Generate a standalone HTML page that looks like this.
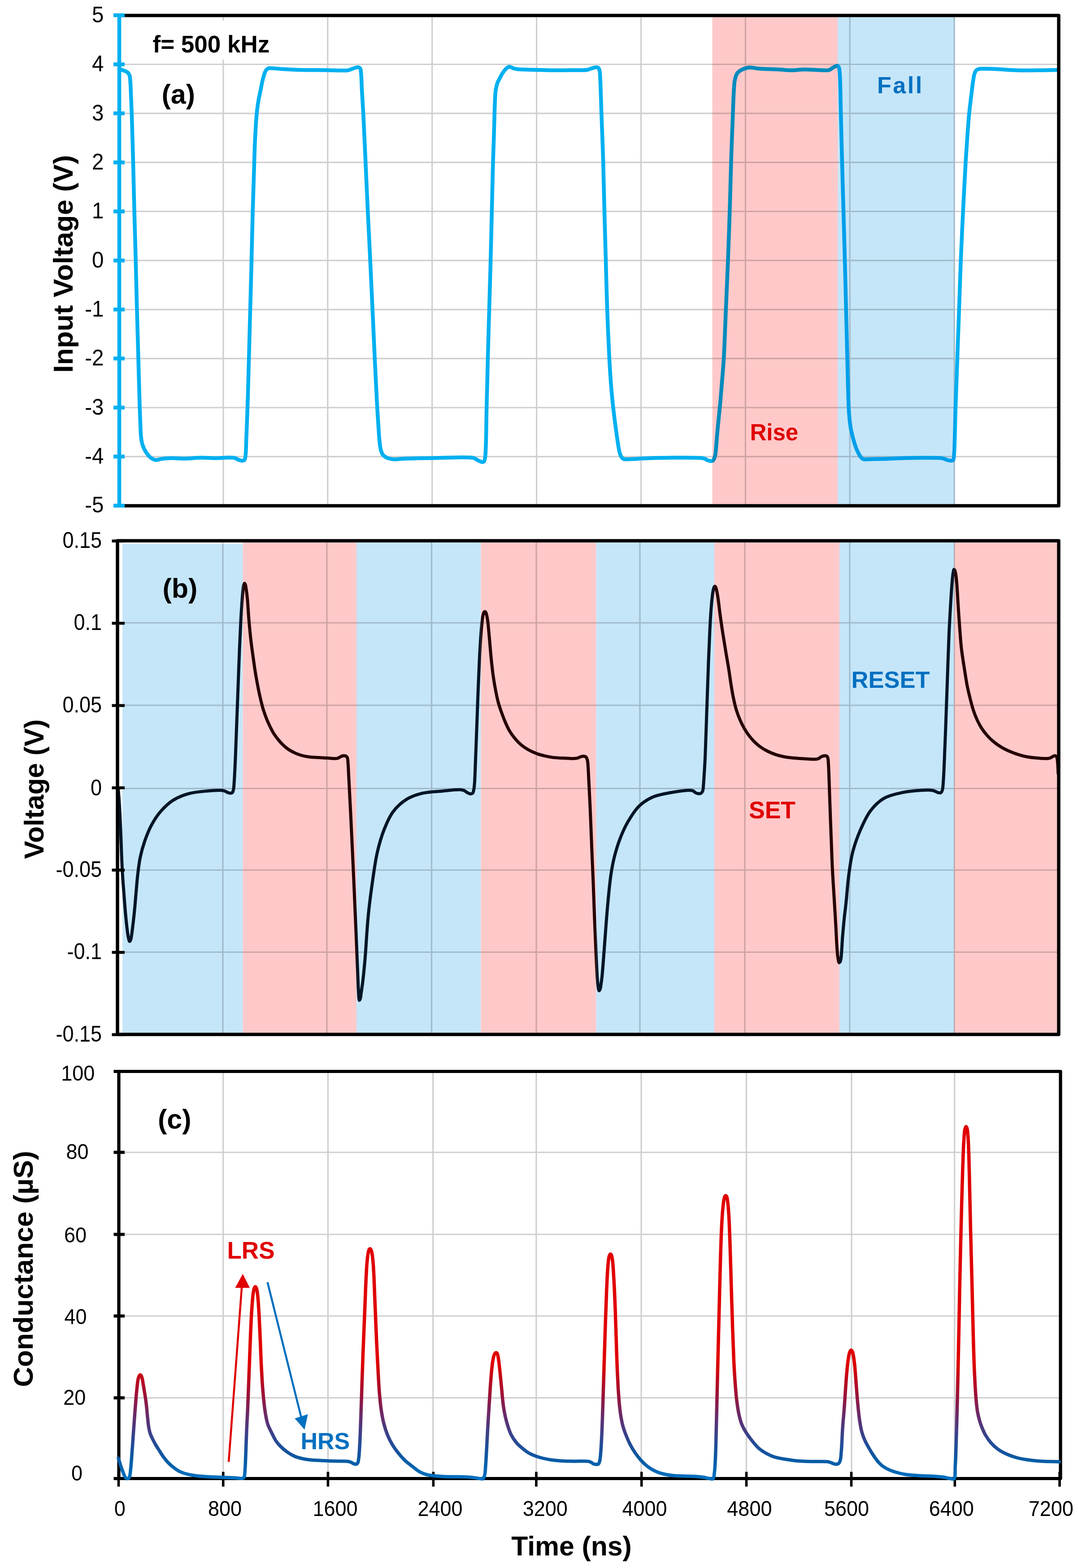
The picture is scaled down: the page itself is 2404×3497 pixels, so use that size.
<!DOCTYPE html><html><head><meta charset="utf-8"><title>Figure</title><style>html,body{margin:0;padding:0;background:#fff;}svg{display:block;}text{font-family:"Liberation Sans",Arial,sans-serif;}</style></head><body><svg xmlns="http://www.w3.org/2000/svg" width="2404" height="3497" viewBox="0 0 2404 3497" font-family="Liberation Sans, Arial, sans-serif"><defs><linearGradient id="cg" gradientUnits="userSpaceOnUse" x1="0" y1="3040" x2="0" y2="3297"><stop offset="0" stop-color="#e00000"/><stop offset="0.296" stop-color="#96143c"/><stop offset="0.436" stop-color="#6e2864"/><stop offset="0.576" stop-color="#463c82"/><stop offset="0.70" stop-color="#234b96"/><stop offset="0.852" stop-color="#055ca5"/><stop offset="1" stop-color="#0070c0"/></linearGradient><clipPath id="cpb"><rect x="250.0" y="1200" width="291.6" height="1110"/><rect x="795.0" y="1200" width="277.5" height="1110"/><rect x="1329.7" y="1200" width="263.3" height="1110"/><rect x="1872.0" y="1200" width="256.2" height="1110"/></clipPath><clipPath id="cpp"><rect x="541.6" y="1200" width="253.4" height="1110"/><rect x="1072.5" y="1200" width="257.2" height="1110"/><rect x="1593.0" y="1200" width="279.0" height="1110"/><rect x="2128.2" y="1200" width="271.8" height="1110"/></clipPath></defs><rect width="2404" height="3497" fill="#fff"/><path d="M266.0,1018.3H2361.0M266.0,909.0H2361.0M266.0,799.6H2361.0M266.0,690.3H2361.0M266.0,580.9H2361.0M266.0,471.5H2361.0M266.0,362.2H2361.0M266.0,252.8H2361.0M266.0,143.5H2361.0M497.9,34.5V1128.0M730.8,34.5V1128.0M963.7,34.5V1128.0M1196.6,34.5V1128.0M1429.5,34.5V1128.0M1662.4,34.5V1128.0M1895.2,34.5V1128.0M2128.2,34.5V1128.0" stroke="#cfcfcf" stroke-width="3.2" fill="none"/><rect x="330" y="46" width="280" height="87" fill="#fff"/><path d="M266.0,153.0 C268.0,154.0 269.7,155.0 272.0,156.0 C274.8,157.2 278.9,158.1 281.4,159.5 C283.3,160.5 284.7,161.5 286.0,163.0 C287.4,164.6 288.3,166.4 289.1,169.0 C290.3,173.0 290.3,179.1 290.8,185.0 C291.4,192.4 291.6,200.5 292.0,210.0 C292.6,222.6 293.2,236.1 293.8,254.0 C294.8,281.9 295.9,325.1 296.9,361.0 C297.9,397.4 298.6,434.3 299.6,471.0 C300.6,507.9 301.7,545.3 302.7,582.0 C303.7,618.2 304.4,653.9 305.4,690.0 C306.4,726.3 307.5,762.6 308.5,799.0 C309.5,835.6 310.7,882.3 311.6,909.0 C312.1,924.3 312.5,933.9 313.0,945.0 C313.4,954.6 313.6,964.6 314.3,972.0 C314.8,977.1 315.2,981.1 316.0,985.0 C316.7,988.3 317.4,991.0 318.5,994.0 C319.6,997.0 321.0,1000.2 322.5,1003.0 C323.9,1005.7 325.3,1008.1 327.0,1010.5 C328.8,1013.1 330.8,1015.8 333.0,1018.0 C335.2,1020.1 337.7,1022.2 340.2,1023.5 C342.6,1024.8 344.9,1025.8 347.7,1026.0 C351.1,1026.2 354.5,1024.2 359.0,1023.6 C365.6,1022.7 375.0,1022.0 383.4,1021.8 C392.5,1021.6 401.5,1022.8 411.6,1022.7 C423.2,1022.6 437.6,1020.9 449.2,1020.8 C459.3,1020.7 466.9,1021.7 477.4,1021.8 C490.7,1021.9 513.2,1019.2 522.5,1021.2 C526.9,1022.1 528.8,1024.5 531.9,1025.5 C534.7,1026.5 537.9,1027.6 540.3,1027.4 C542.2,1027.3 544.1,1026.9 545.3,1025.5 C547.0,1023.5 547.0,1019.7 547.6,1015.0 C548.8,1006.0 548.8,988.3 549.4,975.0 C550.0,961.7 550.5,948.7 551.0,935.0 C551.5,920.4 552.0,907.6 552.6,890.0 C553.4,865.1 554.2,831.4 555.1,800.0 C556.0,765.4 557.0,727.2 558.0,691.0 C559.0,654.9 560.0,619.2 560.9,583.0 C561.8,546.3 562.7,505.6 563.6,472.0 C564.4,444.0 565.2,419.6 566.0,395.0 C566.7,372.4 567.2,350.2 568.0,330.0 C568.7,312.2 569.5,295.1 570.5,280.0 C571.3,267.6 572.1,256.4 573.3,246.0 C574.3,237.0 575.6,228.7 577.0,221.0 C578.2,214.4 579.6,208.8 580.8,202.7 C582.1,196.5 583.2,189.9 584.5,184.0 C585.7,178.7 587.1,173.1 588.3,168.9 C589.2,165.8 590.0,163.3 591.0,161.0 C591.9,159.0 592.8,157.1 594.0,155.7 C595.0,154.5 596.2,153.6 597.5,153.0 C598.7,152.4 599.6,152.2 601.5,152.0 C606.2,151.6 617.0,153.2 626.0,153.8 C637.2,154.5 649.2,155.3 663.5,155.7 C682.8,156.3 710.9,156.3 731.2,156.5 C747.8,156.7 767.6,158.3 776.3,156.8 C780.0,156.2 781.5,154.9 784.0,154.0 C786.5,153.1 789.1,152.2 791.3,151.5 C793.0,151.0 794.4,150.4 796.0,150.2 C797.6,150.0 799.5,149.9 800.8,150.5 C801.9,151.0 802.8,151.7 803.5,153.0 C804.8,155.4 804.8,159.9 805.3,165.0 C806.2,173.6 806.3,187.1 807.0,200.0 C807.9,216.1 809.1,232.9 810.2,254.0 C811.8,283.6 813.5,325.1 815.2,361.0 C816.9,397.4 818.5,434.3 820.2,471.0 C822.0,507.9 823.9,545.3 825.7,582.0 C827.4,618.2 829.0,653.9 830.7,690.0 C832.4,726.2 834.0,762.6 835.7,799.0 C837.5,835.6 839.5,879.3 841.2,909.0 C842.4,929.2 843.5,946.0 844.5,960.0 C845.2,969.8 845.7,977.7 846.5,985.0 C847.1,990.6 847.6,995.7 848.5,1000.0 C849.2,1003.4 850.0,1006.4 851.0,1009.0 C851.9,1011.1 852.6,1012.8 854.0,1014.5 C855.5,1016.4 857.8,1018.2 860.0,1019.5 C862.3,1020.9 864.7,1021.7 867.5,1022.5 C871.0,1023.5 875.0,1024.3 879.6,1024.5 C885.6,1024.8 891.4,1023.3 900.3,1022.9 C916.4,1022.1 943.9,1021.7 968.0,1021.4 C995.5,1021.1 1043.7,1018.2 1056.3,1021.4 C1060.0,1022.3 1060.8,1023.8 1063.0,1025.0 C1065.2,1026.2 1067.3,1027.6 1069.5,1028.5 C1071.5,1029.4 1073.7,1030.5 1075.5,1030.5 C1077.0,1030.5 1078.5,1030.2 1079.5,1029.0 C1081.2,1027.1 1081.4,1023.6 1082.1,1018.0 C1084.4,1000.5 1084.2,945.4 1085.2,909.0 C1086.2,872.4 1086.9,835.6 1087.9,799.0 C1088.9,762.6 1090.0,726.2 1091.0,690.0 C1092.0,653.9 1093.1,618.2 1094.1,582.0 C1095.1,545.3 1095.9,507.9 1096.8,471.0 C1097.7,434.3 1098.6,392.3 1099.5,361.0 C1100.2,337.7 1100.9,318.9 1101.5,300.0 C1102.0,283.6 1102.4,267.6 1102.8,254.0 C1103.1,243.2 1103.4,233.8 1103.8,225.0 C1104.1,217.7 1104.3,211.1 1105.0,205.0 C1105.6,199.9 1106.5,195.1 1107.5,191.0 C1108.4,187.6 1109.3,184.8 1110.5,182.0 C1111.6,179.5 1113.0,177.5 1114.3,175.0 C1115.8,172.2 1117.3,168.8 1119.0,166.0 C1120.6,163.3 1122.2,160.8 1124.0,158.5 C1125.7,156.3 1127.6,154.1 1129.5,152.5 C1131.2,151.0 1133.1,149.3 1135.0,149.0 C1136.6,148.7 1138.4,149.4 1140.0,150.0 C1141.7,150.6 1143.0,151.8 1145.0,152.5 C1147.9,153.5 1151.1,154.1 1155.9,154.6 C1164.6,155.6 1181.0,155.3 1193.5,155.7 C1206.0,156.1 1218.6,156.7 1231.1,156.8 C1243.6,156.9 1255.9,156.7 1268.7,156.5 C1282.2,156.3 1302.6,157.1 1310.1,155.7 C1313.0,155.1 1314.1,154.1 1316.0,153.5 C1317.8,152.9 1319.7,152.5 1321.4,152.0 C1323.0,151.5 1324.4,150.8 1326.0,150.5 C1327.6,150.2 1329.3,149.8 1330.8,150.0 C1332.1,150.2 1333.5,150.6 1334.5,151.5 C1335.7,152.7 1336.4,154.6 1337.0,157.0 C1338.1,161.2 1338.0,166.9 1338.5,175.0 C1339.5,192.0 1340.3,225.7 1341.3,254.0 C1342.5,287.0 1344.1,325.1 1345.2,361.0 C1346.3,397.4 1346.9,434.3 1347.9,471.0 C1348.9,507.9 1350.0,545.3 1351.0,582.0 C1352.0,618.2 1352.8,653.9 1354.1,690.0 C1355.4,726.3 1357.2,769.5 1358.8,799.0 C1359.9,819.2 1360.9,834.6 1362.0,850.0 C1362.9,862.8 1364.0,874.4 1365.0,885.0 C1365.8,893.8 1366.5,900.4 1367.5,909.0 C1368.6,919.1 1370.1,931.0 1371.5,942.0 C1372.9,953.0 1374.6,965.0 1376.0,975.0 C1377.2,983.4 1378.2,991.3 1379.5,998.0 C1380.5,1003.3 1381.3,1008.1 1382.6,1012.0 C1383.6,1014.9 1384.6,1017.5 1386.0,1019.5 C1387.2,1021.2 1388.1,1022.6 1390.2,1023.5 C1393.5,1024.9 1399.1,1024.1 1405.2,1024.0 C1414.9,1023.9 1429.7,1022.6 1442.8,1022.1 C1457.1,1021.6 1470.8,1021.1 1487.9,1021.0 C1510.5,1020.8 1555.7,1019.9 1566.8,1021.7 C1569.9,1022.2 1570.6,1022.7 1572.5,1023.5 C1574.4,1024.3 1576.2,1025.8 1578.1,1026.6 C1579.9,1027.3 1581.6,1027.8 1583.5,1028.0 C1585.4,1028.2 1587.9,1028.6 1589.4,1027.7 C1590.9,1026.9 1591.6,1024.8 1592.5,1023.0 C1593.6,1020.7 1594.2,1018.8 1595.0,1015.0 C1596.7,1006.7 1597.6,987.0 1598.8,974.0 C1599.9,962.1 1600.9,951.1 1602.0,940.0 C1603.0,929.4 1604.1,920.2 1605.2,909.0 C1606.5,895.6 1607.7,881.2 1609.0,865.0 C1610.6,845.2 1612.6,823.8 1614.1,799.0 C1616.0,767.2 1617.2,726.2 1618.8,690.0 C1620.3,653.9 1622.0,618.2 1623.4,582.0 C1624.8,545.3 1626.1,507.9 1627.3,471.0 C1628.5,434.3 1629.2,397.4 1630.4,361.0 C1631.6,325.1 1633.2,281.5 1634.3,254.0 C1635.0,236.8 1635.3,224.8 1636.0,212.0 C1636.6,201.2 1636.9,189.7 1638.1,182.0 C1638.9,177.1 1639.8,173.3 1641.0,170.0 C1641.9,167.5 1642.6,165.5 1644.0,163.5 C1645.5,161.4 1647.8,159.6 1650.0,158.0 C1652.3,156.4 1655.0,155.1 1657.5,154.0 C1660.0,152.9 1662.4,152.1 1665.0,151.5 C1667.6,150.9 1669.8,150.5 1673.0,150.5 C1678.0,150.5 1684.3,152.4 1692.0,153.1 C1703.8,154.2 1724.1,154.3 1737.1,155.0 C1747.1,155.6 1754.4,156.8 1763.5,156.8 C1773.2,156.8 1782.9,155.1 1793.5,155.0 C1805.3,154.9 1821.0,156.3 1831.1,156.5 C1837.8,156.6 1844.1,157.4 1848.0,156.5 C1850.2,156.0 1851.4,154.9 1853.0,154.0 C1854.5,153.1 1855.9,151.9 1857.4,151.0 C1858.9,150.1 1860.4,149.3 1862.0,148.5 C1863.6,147.8 1865.4,146.4 1866.8,146.5 C1867.8,146.6 1868.8,147.2 1869.5,148.0 C1870.5,149.1 1871.0,150.8 1871.5,153.0 C1872.4,156.6 1872.6,160.9 1873.0,168.0 C1874.1,184.9 1874.4,223.8 1875.2,254.0 C1876.1,287.7 1876.9,325.1 1877.9,361.0 C1878.9,397.4 1880.0,434.3 1881.0,471.0 C1882.0,507.9 1883.1,545.3 1884.1,582.0 C1885.1,618.2 1885.9,653.9 1886.8,690.0 C1887.7,726.2 1888.5,762.6 1889.5,799.0 C1890.5,835.6 1891.4,885.0 1892.6,909.0 C1893.2,920.7 1893.7,926.9 1894.5,935.0 C1895.2,942.1 1896.1,948.6 1897.2,955.0 C1898.3,960.9 1899.6,966.5 1901.0,972.0 C1902.3,977.2 1903.6,982.2 1905.1,987.0 C1906.5,991.5 1907.9,995.9 1909.5,1000.0 C1911.0,1003.9 1912.8,1007.7 1914.5,1011.0 C1916.0,1013.8 1917.3,1016.3 1919.0,1018.5 C1920.5,1020.4 1922.0,1022.5 1923.9,1023.5 C1925.7,1024.4 1927.6,1024.3 1930.0,1024.5 C1933.5,1024.7 1937.5,1024.2 1942.7,1024.1 C1950.8,1023.9 1962.5,1023.8 1974.0,1023.5 C1988.1,1023.1 2006.6,1022.0 2021.0,1021.6 C2033.4,1021.2 2043.2,1021.0 2055.4,1021.0 C2069.1,1021.0 2091.1,1020.4 2099.3,1021.6 C2102.6,1022.1 2103.9,1022.8 2106.0,1023.5 C2108.0,1024.2 2109.9,1025.1 2111.8,1025.7 C2113.7,1026.3 2115.6,1026.8 2117.5,1027.0 C2119.3,1027.2 2121.3,1027.5 2122.8,1027.2 C2124.0,1027.0 2125.0,1026.8 2125.8,1025.8 C2127.4,1023.6 2127.2,1018.8 2127.8,1012.0 C2129.4,993.6 2129.8,943.9 2131.0,909.0 C2132.2,872.9 2133.6,835.6 2134.9,799.0 C2136.2,762.6 2137.5,726.2 2138.8,690.0 C2140.1,653.9 2141.1,618.2 2142.6,582.0 C2144.1,545.2 2145.9,507.9 2147.7,471.0 C2149.5,434.2 2151.6,392.3 2153.5,361.0 C2154.9,337.7 2156.1,318.9 2157.5,300.0 C2158.7,283.6 2159.9,267.6 2161.2,254.0 C2162.2,243.2 2163.4,234.5 2164.5,225.0 C2165.6,215.8 2166.7,206.3 2167.8,198.0 C2168.7,190.8 2169.4,184.2 2170.5,178.0 C2171.4,172.6 2172.0,166.9 2173.6,163.0 C2174.8,160.1 2176.2,157.5 2178.0,156.0 C2179.5,154.8 2181.2,154.5 2183.0,154.0 C2185.1,153.5 2187.0,153.3 2190.1,153.2 C2196.0,152.9 2205.8,153.4 2215.9,153.8 C2230.2,154.4 2251.1,156.3 2267.6,156.8 C2282.6,157.2 2296.0,156.9 2310.7,156.8 C2326.1,156.7 2342.2,156.3 2358.0,156.0" stroke="#00b0f0" stroke-width="8.5" fill="none" stroke-linejoin="round" stroke-linecap="round"/><rect x="1588.5" y="38" width="279.5" height="1086" fill="#ffc9c9" style="mix-blend-mode:multiply"/><rect x="1868" y="38" width="261.5" height="1086" fill="#c5e6f9" style="mix-blend-mode:multiply"/><path d="M266.0,34.5H2361.0V1128.0H266.0" stroke="#000" stroke-width="7.5" fill="none" stroke-linejoin="round"/><path d="M266.0,30V1132M253,1127.7H278M253,1018.3H278M253,909.0H278M253,799.6H278M253,690.3H278M253,580.9H278M253,471.5H278M253,362.2H278M253,252.8H278M253,143.5H278M253,34.1H278" stroke="#00b0f0" stroke-width="8.5" fill="none"/><text transform="translate(231.5,1126.2) scale(1,1.040)" x="0" y="16.62" font-size="47.5" text-anchor="end">-5</text><text transform="translate(231.5,1016.8) scale(1,1.040)" x="0" y="16.62" font-size="47.5" text-anchor="end">-4</text><text transform="translate(231.5,907.5) scale(1,1.040)" x="0" y="16.62" font-size="47.5" text-anchor="end">-3</text><text transform="translate(231.5,798.1) scale(1,1.040)" x="0" y="16.62" font-size="47.5" text-anchor="end">-2</text><text transform="translate(231.5,688.8) scale(1,1.040)" x="0" y="16.62" font-size="47.5" text-anchor="end">-1</text><text transform="translate(231.5,579.4) scale(1,1.040)" x="0" y="16.62" font-size="47.5" text-anchor="end">0</text><text transform="translate(231.5,470.0) scale(1,1.040)" x="0" y="16.62" font-size="47.5" text-anchor="end">1</text><text transform="translate(231.5,360.7) scale(1,1.040)" x="0" y="16.62" font-size="47.5" text-anchor="end">2</text><text transform="translate(231.5,251.3) scale(1,1.040)" x="0" y="16.62" font-size="47.5" text-anchor="end">3</text><text transform="translate(231.5,142.0) scale(1,1.040)" x="0" y="16.62" font-size="47.5" text-anchor="end">4</text><text transform="translate(231.5,32.6) scale(1,1.040)" x="0" y="16.62" font-size="47.5" text-anchor="end">5</text><text x="340.5" y="117.0" font-size="53.0" text-anchor="start" font-weight="bold" fill="#000">f= 500 kHz</text><text x="360.5" y="231.0" font-size="61.0" text-anchor="start" font-weight="bold" fill="#000">(a)</text><text x="1672.5" y="982.0" font-size="51.0" text-anchor="start" font-weight="bold" fill="#e00000">Rise</text><text x="1956.0" y="207.5" font-size="52.0" text-anchor="start" font-weight="bold" fill="#0070c0" letter-spacing="3.5">Fall</text><text x="161.5" y="588.5" font-size="61.7" text-anchor="middle" font-weight="bold" fill="#000" transform="rotate(-90 161.5 588.5)">Input Voltage (V)</text><rect x="273.0" y="1213.5" width="268.6" height="1090.0" fill="#c5e6f9"/><rect x="541.6" y="1210.0" width="253.4" height="1093.5" fill="#ffc9c9"/><rect x="795.0" y="1210.0" width="277.5" height="1093.5" fill="#c5e6f9"/><rect x="1072.5" y="1210.0" width="257.2" height="1093.5" fill="#ffc9c9"/><rect x="1329.7" y="1210.0" width="263.3" height="1093.5" fill="#c5e6f9"/><rect x="1593.0" y="1210.0" width="279.0" height="1093.5" fill="#ffc9c9"/><rect x="1872.0" y="1210.0" width="256.2" height="1093.5" fill="#c5e6f9"/><rect x="2128.2" y="1210.0" width="229.8" height="1093.5" fill="#ffc9c9"/><path d="M262.0,1389.0H2361.0M262.0,1573.0H2361.0M262.0,1758.5H2361.0M262.0,1940.5H2361.0M262.0,2123.5H2361.0M497.0,1206.0V2307.0M729.0,1206.0V2307.0M962.5,1206.0V2307.0M1196.0,1206.0V2307.0M1427.0,1206.0V2307.0M1661.0,1206.0V2307.0M1895.0,1206.0V2307.0M2128.2,1206.0V2307.0" stroke="#cfcfcf" stroke-width="3.2" fill="none" style="mix-blend-mode:multiply"/><path d="M263.5,1757.0 C264.3,1768.0 265.2,1777.4 266.0,1790.0 C267.1,1807.0 268.0,1828.0 269.0,1850.0 C270.2,1877.0 271.1,1913.7 272.6,1940.0 C273.7,1960.6 275.2,1977.6 276.5,1995.0 C277.7,2010.8 278.8,2026.3 280.1,2040.0 C281.2,2051.6 282.3,2062.7 283.5,2072.0 C284.4,2079.2 285.1,2086.0 286.3,2091.0 C287.1,2094.4 288.1,2099.4 289.1,2099.5 C289.9,2099.6 291.0,2097.0 291.7,2095.0 C292.8,2091.9 293.2,2087.0 294.0,2082.0 C295.0,2075.2 296.0,2066.3 297.0,2058.0 C298.0,2049.0 299.0,2040.2 300.0,2030.0 C301.2,2017.9 302.3,2003.2 303.5,1990.0 C304.7,1977.2 305.5,1964.8 307.0,1952.0 C308.5,1938.8 310.0,1924.9 312.7,1912.0 C315.3,1899.6 318.6,1887.8 322.7,1876.0 C326.9,1864.0 331.7,1851.5 337.7,1840.4 C343.5,1829.7 349.9,1819.4 357.8,1810.3 C365.8,1801.0 374.9,1791.9 385.3,1785.2 C395.8,1778.5 408.1,1773.7 420.4,1770.2 C433.1,1766.6 447.5,1765.4 460.5,1764.2 C472.6,1763.0 488.6,1761.9 495.6,1762.7 C498.6,1763.1 499.9,1763.7 502.0,1764.5 C504.1,1765.3 506.0,1766.9 508.1,1767.7 C510.0,1768.4 512.2,1769.1 514.0,1769.0 C515.5,1768.9 517.1,1768.7 518.2,1767.7 C519.5,1766.4 520.0,1763.9 520.6,1761.0 C521.7,1756.0 521.9,1748.5 522.5,1740.0 C523.4,1726.9 524.2,1708.6 525.0,1690.0 C526.0,1666.5 527.0,1636.7 528.0,1610.0 C529.0,1583.3 530.0,1556.7 531.0,1530.0 C532.0,1503.3 532.9,1475.3 534.0,1450.0 C535.0,1427.2 536.0,1404.0 537.0,1385.0 C537.8,1370.1 538.6,1357.0 539.5,1345.0 C540.2,1335.1 540.9,1325.4 541.7,1318.0 C542.3,1312.7 542.6,1307.5 543.5,1304.5 C544.0,1302.9 544.6,1301.1 545.2,1301.0 C545.8,1301.0 546.5,1302.3 547.0,1303.5 C548.0,1305.9 548.5,1310.6 549.2,1315.0 C550.1,1320.9 550.9,1327.5 551.7,1336.0 C552.9,1348.9 553.9,1369.2 555.3,1385.0 C556.6,1399.8 558.0,1414.5 559.5,1428.0 C560.9,1440.0 562.4,1450.6 564.0,1462.0 C565.6,1473.6 567.2,1485.7 569.0,1497.0 C570.7,1507.7 572.6,1518.0 574.5,1528.0 C576.3,1537.3 578.0,1546.0 580.1,1555.0 C582.2,1564.0 584.4,1573.4 587.0,1582.0 C589.5,1590.0 592.4,1598.1 595.2,1605.0 C597.6,1610.9 600.0,1615.8 602.5,1621.0 C605.0,1626.0 607.3,1630.9 610.2,1635.5 C613.1,1640.2 616.6,1644.7 620.0,1649.0 C623.3,1653.1 626.6,1657.0 630.3,1660.6 C634.0,1664.2 637.8,1667.6 642.0,1670.5 C646.2,1673.4 650.9,1676.0 655.3,1678.1 C659.3,1680.1 662.9,1681.6 667.0,1683.0 C671.3,1684.5 675.8,1685.7 680.4,1686.6 C685.1,1687.6 690.0,1688.2 695.0,1688.7 C700.1,1689.2 705.0,1689.3 710.5,1689.6 C716.6,1689.9 723.4,1690.3 730.0,1690.6 C736.8,1690.9 746.1,1692.2 750.6,1691.6 C752.8,1691.3 753.9,1690.7 755.5,1690.0 C757.2,1689.2 758.8,1687.8 760.6,1687.0 C762.3,1686.3 764.2,1685.7 766.0,1685.5 C767.7,1685.4 769.6,1685.4 771.0,1686.0 C772.3,1686.6 773.5,1687.4 774.3,1689.0 C775.9,1692.1 775.8,1699.1 776.3,1705.0 C777.0,1712.4 777.0,1719.2 777.6,1730.0 C778.6,1749.9 780.4,1782.9 782.0,1815.0 C784.1,1856.9 786.7,1913.9 788.8,1960.0 C790.7,2001.9 792.5,2044.0 794.0,2080.0 C795.2,2109.4 796.3,2136.5 797.3,2160.0 C798.1,2178.6 798.5,2196.9 799.4,2210.0 C800.0,2218.5 800.2,2230.8 801.4,2231.0 C802.0,2231.1 802.9,2228.8 803.5,2227.0 C804.6,2223.7 805.0,2217.5 805.8,2212.0 C806.8,2205.4 807.8,2198.8 808.9,2190.0 C810.5,2176.8 812.2,2159.9 813.9,2140.5 C816.3,2112.9 818.2,2071.8 821.4,2040.3 C824.2,2012.1 827.9,1984.9 831.5,1960.2 C834.6,1938.8 837.1,1919.4 841.5,1900.5 C845.6,1882.9 850.3,1865.9 856.5,1850.4 C862.2,1836.0 868.0,1821.8 876.6,1810.3 C884.8,1799.4 895.5,1789.6 906.6,1782.7 C917.3,1776.1 929.1,1772.3 941.7,1769.2 C955.6,1765.8 972.2,1765.6 986.8,1764.2 C1000.5,1762.9 1018.6,1760.6 1026.9,1761.2 C1030.7,1761.5 1032.5,1761.9 1035.0,1763.0 C1037.5,1764.1 1039.6,1766.4 1042.0,1767.7 C1044.3,1768.9 1046.8,1770.4 1049.0,1770.5 C1050.8,1770.6 1052.7,1770.2 1054.0,1769.0 C1055.7,1767.3 1056.1,1763.4 1056.8,1760.0 C1057.7,1755.7 1057.9,1751.3 1058.4,1745.0 C1059.2,1734.0 1059.6,1717.1 1060.3,1700.0 C1061.2,1677.1 1062.3,1646.7 1063.3,1620.0 C1064.3,1593.3 1065.2,1565.6 1066.2,1540.0 C1067.1,1516.4 1068.0,1492.9 1069.1,1472.0 C1070.0,1454.1 1070.9,1437.1 1072.0,1422.0 C1072.9,1409.6 1073.8,1397.4 1074.9,1388.0 C1075.7,1381.3 1076.3,1375.2 1077.4,1371.0 C1078.1,1368.4 1078.7,1366.1 1079.7,1365.0 C1080.3,1364.4 1081.0,1363.9 1081.6,1364.0 C1082.3,1364.1 1082.9,1365.0 1083.5,1366.0 C1084.5,1367.7 1085.1,1370.9 1085.8,1374.0 C1086.7,1378.0 1087.3,1382.2 1088.0,1388.0 C1089.2,1397.4 1090.3,1412.1 1091.5,1425.0 C1092.8,1439.3 1094.1,1455.9 1095.5,1470.0 C1096.8,1482.4 1098.0,1494.0 1099.5,1505.0 C1100.9,1514.9 1102.2,1523.3 1104.0,1533.0 C1106.0,1543.6 1108.3,1555.9 1111.0,1566.0 C1113.4,1574.8 1116.2,1582.6 1119.0,1590.4 C1121.6,1597.6 1124.1,1604.3 1127.0,1611.0 C1129.9,1617.7 1132.9,1624.5 1136.5,1630.5 C1139.9,1636.3 1143.8,1641.5 1148.0,1646.5 C1152.2,1651.5 1156.6,1656.4 1161.6,1660.6 C1166.6,1664.9 1172.2,1668.7 1178.0,1672.0 C1183.9,1675.4 1190.5,1678.3 1196.7,1680.6 C1202.5,1682.8 1208.2,1684.2 1214.0,1685.6 C1219.9,1687.0 1225.4,1688.2 1231.8,1689.1 C1239.2,1690.1 1247.8,1690.4 1256.0,1690.8 C1264.5,1691.2 1276.1,1692.0 1281.9,1691.6 C1284.8,1691.4 1286.4,1691.1 1288.5,1690.5 C1290.6,1689.9 1292.4,1688.7 1294.4,1688.0 C1296.4,1687.3 1298.5,1686.5 1300.5,1686.5 C1302.5,1686.5 1305.0,1686.8 1306.5,1688.0 C1308.2,1689.4 1309.0,1692.1 1309.8,1695.0 C1311.0,1699.4 1311.1,1705.6 1311.6,1712.0 C1312.2,1720.2 1312.4,1728.9 1313.0,1740.0 C1313.8,1756.2 1315.0,1777.5 1316.0,1800.0 C1317.3,1829.1 1318.8,1870.9 1320.0,1900.0 C1320.9,1922.5 1321.7,1938.6 1322.6,1960.0 C1323.6,1984.8 1324.6,2016.5 1325.5,2040.0 C1326.2,2058.6 1326.8,2071.9 1327.6,2090.0 C1328.5,2111.4 1329.7,2140.5 1330.8,2160.0 C1331.6,2174.0 1332.0,2186.9 1333.3,2196.0 C1334.1,2201.6 1334.9,2209.3 1336.1,2209.5 C1336.8,2209.6 1337.9,2207.0 1338.6,2205.0 C1339.7,2201.9 1340.0,2196.4 1340.7,2192.0 C1341.4,2187.4 1341.9,2184.4 1342.6,2178.0 C1344.0,2164.6 1345.8,2138.1 1347.6,2115.0 C1349.8,2086.6 1352.3,2049.2 1355.0,2020.0 C1357.3,1994.9 1359.5,1970.0 1362.5,1950.0 C1364.8,1934.9 1366.9,1923.6 1370.2,1910.5 C1373.6,1897.1 1377.7,1883.4 1382.7,1870.4 C1387.7,1857.5 1393.3,1844.8 1400.3,1832.8 C1407.4,1820.6 1415.6,1807.1 1425.3,1797.7 C1434.2,1789.1 1444.2,1782.7 1455.4,1777.7 C1467.4,1772.4 1481.7,1770.2 1495.5,1767.7 C1510.0,1765.1 1532.9,1762.2 1540.6,1762.7 C1543.3,1762.9 1544.4,1763.2 1546.0,1764.0 C1547.7,1764.8 1548.8,1766.7 1550.6,1767.7 C1552.5,1768.8 1554.9,1769.8 1557.0,1770.0 C1559.1,1770.2 1561.5,1770.2 1563.2,1769.2 C1564.9,1768.2 1566.1,1766.3 1567.0,1764.0 C1568.4,1760.6 1568.3,1755.3 1568.8,1750.0 C1569.5,1742.9 1569.9,1734.0 1570.5,1725.0 C1571.2,1714.3 1571.8,1704.7 1572.5,1690.0 C1573.6,1665.2 1574.8,1624.5 1576.0,1590.0 C1577.3,1553.0 1578.7,1508.6 1580.0,1475.0 C1581.0,1448.8 1582.0,1425.5 1583.0,1405.0 C1583.8,1388.9 1584.6,1374.8 1585.5,1362.0 C1586.3,1351.7 1587.1,1342.2 1588.0,1334.0 C1588.7,1327.6 1589.5,1321.5 1590.4,1317.0 C1591.0,1314.0 1591.5,1311.1 1592.4,1309.5 C1592.9,1308.5 1593.5,1307.5 1594.1,1307.5 C1594.7,1307.5 1595.4,1308.5 1596.0,1309.5 C1597.0,1311.3 1597.6,1314.6 1598.4,1318.0 C1599.5,1322.9 1600.5,1329.3 1601.5,1336.0 C1602.8,1344.5 1603.8,1354.9 1605.1,1365.0 C1606.6,1376.1 1608.3,1388.6 1610.0,1400.0 C1611.6,1410.9 1613.4,1421.5 1615.1,1432.0 C1616.7,1442.2 1618.3,1452.0 1620.0,1462.0 C1621.7,1472.0 1623.5,1481.8 1625.1,1492.0 C1626.8,1502.7 1628.3,1514.3 1630.0,1525.0 C1631.6,1535.2 1633.2,1545.2 1635.2,1555.0 C1637.2,1564.5 1639.3,1574.3 1642.0,1583.0 C1644.4,1591.0 1647.1,1598.3 1650.2,1605.4 C1653.2,1612.2 1656.5,1618.9 1660.0,1625.0 C1663.2,1630.6 1666.6,1635.6 1670.3,1640.5 C1673.9,1645.3 1677.8,1649.8 1682.0,1654.0 C1686.2,1658.1 1690.4,1662.0 1695.3,1665.5 C1700.4,1669.2 1706.2,1672.6 1712.0,1675.5 C1717.9,1678.5 1724.1,1681.0 1730.4,1683.1 C1736.8,1685.2 1743.4,1686.8 1750.0,1688.0 C1756.7,1689.3 1763.4,1689.9 1770.5,1690.6 C1778.3,1691.3 1786.7,1691.8 1795.0,1692.2 C1803.4,1692.6 1815.3,1693.8 1820.6,1693.1 C1823.1,1692.8 1824.3,1692.3 1826.0,1691.5 C1827.7,1690.7 1828.9,1689.0 1830.6,1688.1 C1832.5,1687.1 1834.9,1686.1 1837.0,1685.8 C1839.1,1685.5 1841.7,1685.2 1843.2,1686.0 C1844.6,1686.7 1845.3,1688.1 1846.0,1690.0 C1847.2,1693.3 1847.1,1699.4 1847.5,1705.0 C1848.0,1712.3 1848.2,1719.6 1848.6,1730.0 C1849.3,1747.5 1850.1,1775.9 1851.0,1800.0 C1851.9,1825.8 1853.0,1855.2 1854.0,1880.0 C1854.8,1901.4 1855.4,1920.0 1856.4,1940.0 C1857.4,1960.0 1858.8,1979.6 1860.0,2000.0 C1861.3,2021.2 1862.8,2045.1 1863.9,2065.0 C1864.9,2081.9 1865.5,2098.9 1866.4,2112.0 C1867.1,2121.3 1867.5,2129.6 1868.6,2136.0 C1869.4,2140.4 1870.1,2146.6 1871.4,2147.0 C1872.0,2147.2 1873.0,2146.0 1873.6,2145.0 C1874.6,2143.3 1874.9,2140.8 1875.5,2137.0 C1876.9,2127.9 1877.7,2105.0 1878.9,2090.0 C1880.0,2076.1 1881.2,2062.9 1882.5,2050.0 C1883.7,2037.9 1885.1,2028.5 1886.5,2015.0 C1888.5,1996.7 1890.3,1970.1 1893.0,1950.0 C1895.4,1932.3 1897.3,1916.9 1901.5,1900.5 C1905.9,1883.7 1912.1,1866.2 1919.0,1850.4 C1925.6,1835.4 1932.3,1819.8 1941.6,1807.8 C1950.1,1796.7 1960.1,1786.9 1971.7,1780.2 C1983.5,1773.4 1998.3,1770.6 2011.8,1767.7 C2025.0,1764.8 2039.8,1763.5 2051.9,1762.7 C2061.9,1762.1 2073.4,1761.7 2079.4,1762.7 C2082.4,1763.2 2083.9,1764.2 2086.0,1765.0 C2088.1,1765.8 2090.0,1767.2 2092.0,1767.7 C2094.0,1768.2 2096.4,1768.8 2098.0,1768.0 C2099.7,1767.1 2100.6,1764.8 2101.5,1762.0 C2103.1,1757.1 2103.2,1748.2 2103.8,1740.0 C2104.6,1729.7 2105.0,1719.2 2105.6,1705.0 C2106.6,1682.9 2107.8,1651.9 2109.0,1620.0 C2110.5,1579.1 2112.5,1518.7 2113.9,1480.0 C2114.9,1452.7 2115.6,1430.8 2116.5,1410.0 C2117.3,1393.3 2118.1,1379.8 2118.9,1365.0 C2119.7,1350.5 2120.6,1335.0 2121.5,1322.0 C2122.2,1311.1 2123.0,1300.4 2123.8,1292.0 C2124.4,1285.8 2125.0,1280.0 2125.8,1276.0 C2126.3,1273.5 2126.6,1270.2 2127.4,1270.0 C2127.9,1269.9 2128.5,1270.7 2129.0,1271.5 C2130.0,1273.1 2130.6,1276.4 2131.3,1280.0 C2132.4,1285.8 2133.0,1294.2 2133.8,1303.0 C2134.8,1314.9 2135.4,1330.2 2136.4,1345.0 C2137.5,1361.6 2138.7,1380.9 2140.0,1398.0 C2141.2,1414.1 2142.1,1429.0 2143.9,1445.0 C2145.8,1461.9 2149.1,1481.6 2151.5,1497.0 C2153.4,1509.3 2154.9,1519.3 2157.0,1530.0 C2159.1,1540.3 2161.6,1550.5 2164.0,1560.0 C2166.2,1568.7 2168.4,1577.2 2171.0,1585.0 C2173.4,1592.2 2176.0,1598.8 2179.0,1605.4 C2182.0,1611.8 2185.2,1618.1 2189.0,1624.0 C2192.8,1629.8 2197.1,1635.5 2201.6,1640.5 C2205.8,1645.3 2210.1,1649.4 2215.0,1653.5 C2220.1,1657.8 2225.8,1661.9 2231.6,1665.5 C2237.4,1669.1 2243.5,1672.1 2250.0,1675.0 C2256.8,1678.0 2264.7,1680.9 2271.7,1683.1 C2278.0,1685.1 2283.6,1686.6 2290.0,1687.8 C2296.9,1689.1 2304.3,1690.0 2311.8,1690.6 C2319.8,1691.3 2331.3,1692.2 2336.8,1691.6 C2339.6,1691.3 2341.0,1690.8 2343.0,1690.0 C2345.2,1689.1 2347.4,1686.9 2349.4,1686.2 C2350.9,1685.7 2352.3,1685.1 2353.5,1685.5 C2354.7,1685.9 2355.8,1687.0 2356.6,1688.5 C2357.9,1691.0 2358.0,1695.4 2358.5,1700.0 C2359.2,1706.7 2359.4,1716.7 2359.8,1725.0" stroke="#021526" stroke-width="7" fill="none" stroke-linejoin="round" stroke-linecap="round" clip-path="url(#cpb)"/><path d="M263.5,1757.0 C264.3,1768.0 265.2,1777.4 266.0,1790.0 C267.1,1807.0 268.0,1828.0 269.0,1850.0 C270.2,1877.0 271.1,1913.7 272.6,1940.0 C273.7,1960.6 275.2,1977.6 276.5,1995.0 C277.7,2010.8 278.8,2026.3 280.1,2040.0 C281.2,2051.6 282.3,2062.7 283.5,2072.0 C284.4,2079.2 285.1,2086.0 286.3,2091.0 C287.1,2094.4 288.1,2099.4 289.1,2099.5 C289.9,2099.6 291.0,2097.0 291.7,2095.0 C292.8,2091.9 293.2,2087.0 294.0,2082.0 C295.0,2075.2 296.0,2066.3 297.0,2058.0 C298.0,2049.0 299.0,2040.2 300.0,2030.0 C301.2,2017.9 302.3,2003.2 303.5,1990.0 C304.7,1977.2 305.5,1964.8 307.0,1952.0 C308.5,1938.8 310.0,1924.9 312.7,1912.0 C315.3,1899.6 318.6,1887.8 322.7,1876.0 C326.9,1864.0 331.7,1851.5 337.7,1840.4 C343.5,1829.7 349.9,1819.4 357.8,1810.3 C365.8,1801.0 374.9,1791.9 385.3,1785.2 C395.8,1778.5 408.1,1773.7 420.4,1770.2 C433.1,1766.6 447.5,1765.4 460.5,1764.2 C472.6,1763.0 488.6,1761.9 495.6,1762.7 C498.6,1763.1 499.9,1763.7 502.0,1764.5 C504.1,1765.3 506.0,1766.9 508.1,1767.7 C510.0,1768.4 512.2,1769.1 514.0,1769.0 C515.5,1768.9 517.1,1768.7 518.2,1767.7 C519.5,1766.4 520.0,1763.9 520.6,1761.0 C521.7,1756.0 521.9,1748.5 522.5,1740.0 C523.4,1726.9 524.2,1708.6 525.0,1690.0 C526.0,1666.5 527.0,1636.7 528.0,1610.0 C529.0,1583.3 530.0,1556.7 531.0,1530.0 C532.0,1503.3 532.9,1475.3 534.0,1450.0 C535.0,1427.2 536.0,1404.0 537.0,1385.0 C537.8,1370.1 538.6,1357.0 539.5,1345.0 C540.2,1335.1 540.9,1325.4 541.7,1318.0 C542.3,1312.7 542.6,1307.5 543.5,1304.5 C544.0,1302.9 544.6,1301.1 545.2,1301.0 C545.8,1301.0 546.5,1302.3 547.0,1303.5 C548.0,1305.9 548.5,1310.6 549.2,1315.0 C550.1,1320.9 550.9,1327.5 551.7,1336.0 C552.9,1348.9 553.9,1369.2 555.3,1385.0 C556.6,1399.8 558.0,1414.5 559.5,1428.0 C560.9,1440.0 562.4,1450.6 564.0,1462.0 C565.6,1473.6 567.2,1485.7 569.0,1497.0 C570.7,1507.7 572.6,1518.0 574.5,1528.0 C576.3,1537.3 578.0,1546.0 580.1,1555.0 C582.2,1564.0 584.4,1573.4 587.0,1582.0 C589.5,1590.0 592.4,1598.1 595.2,1605.0 C597.6,1610.9 600.0,1615.8 602.5,1621.0 C605.0,1626.0 607.3,1630.9 610.2,1635.5 C613.1,1640.2 616.6,1644.7 620.0,1649.0 C623.3,1653.1 626.6,1657.0 630.3,1660.6 C634.0,1664.2 637.8,1667.6 642.0,1670.5 C646.2,1673.4 650.9,1676.0 655.3,1678.1 C659.3,1680.1 662.9,1681.6 667.0,1683.0 C671.3,1684.5 675.8,1685.7 680.4,1686.6 C685.1,1687.6 690.0,1688.2 695.0,1688.7 C700.1,1689.2 705.0,1689.3 710.5,1689.6 C716.6,1689.9 723.4,1690.3 730.0,1690.6 C736.8,1690.9 746.1,1692.2 750.6,1691.6 C752.8,1691.3 753.9,1690.7 755.5,1690.0 C757.2,1689.2 758.8,1687.8 760.6,1687.0 C762.3,1686.3 764.2,1685.7 766.0,1685.5 C767.7,1685.4 769.6,1685.4 771.0,1686.0 C772.3,1686.6 773.5,1687.4 774.3,1689.0 C775.9,1692.1 775.8,1699.1 776.3,1705.0 C777.0,1712.4 777.0,1719.2 777.6,1730.0 C778.6,1749.9 780.4,1782.9 782.0,1815.0 C784.1,1856.9 786.7,1913.9 788.8,1960.0 C790.7,2001.9 792.5,2044.0 794.0,2080.0 C795.2,2109.4 796.3,2136.5 797.3,2160.0 C798.1,2178.6 798.5,2196.9 799.4,2210.0 C800.0,2218.5 800.2,2230.8 801.4,2231.0 C802.0,2231.1 802.9,2228.8 803.5,2227.0 C804.6,2223.7 805.0,2217.5 805.8,2212.0 C806.8,2205.4 807.8,2198.8 808.9,2190.0 C810.5,2176.8 812.2,2159.9 813.9,2140.5 C816.3,2112.9 818.2,2071.8 821.4,2040.3 C824.2,2012.1 827.9,1984.9 831.5,1960.2 C834.6,1938.8 837.1,1919.4 841.5,1900.5 C845.6,1882.9 850.3,1865.9 856.5,1850.4 C862.2,1836.0 868.0,1821.8 876.6,1810.3 C884.8,1799.4 895.5,1789.6 906.6,1782.7 C917.3,1776.1 929.1,1772.3 941.7,1769.2 C955.6,1765.8 972.2,1765.6 986.8,1764.2 C1000.5,1762.9 1018.6,1760.6 1026.9,1761.2 C1030.7,1761.5 1032.5,1761.9 1035.0,1763.0 C1037.5,1764.1 1039.6,1766.4 1042.0,1767.7 C1044.3,1768.9 1046.8,1770.4 1049.0,1770.5 C1050.8,1770.6 1052.7,1770.2 1054.0,1769.0 C1055.7,1767.3 1056.1,1763.4 1056.8,1760.0 C1057.7,1755.7 1057.9,1751.3 1058.4,1745.0 C1059.2,1734.0 1059.6,1717.1 1060.3,1700.0 C1061.2,1677.1 1062.3,1646.7 1063.3,1620.0 C1064.3,1593.3 1065.2,1565.6 1066.2,1540.0 C1067.1,1516.4 1068.0,1492.9 1069.1,1472.0 C1070.0,1454.1 1070.9,1437.1 1072.0,1422.0 C1072.9,1409.6 1073.8,1397.4 1074.9,1388.0 C1075.7,1381.3 1076.3,1375.2 1077.4,1371.0 C1078.1,1368.4 1078.7,1366.1 1079.7,1365.0 C1080.3,1364.4 1081.0,1363.9 1081.6,1364.0 C1082.3,1364.1 1082.9,1365.0 1083.5,1366.0 C1084.5,1367.7 1085.1,1370.9 1085.8,1374.0 C1086.7,1378.0 1087.3,1382.2 1088.0,1388.0 C1089.2,1397.4 1090.3,1412.1 1091.5,1425.0 C1092.8,1439.3 1094.1,1455.9 1095.5,1470.0 C1096.8,1482.4 1098.0,1494.0 1099.5,1505.0 C1100.9,1514.9 1102.2,1523.3 1104.0,1533.0 C1106.0,1543.6 1108.3,1555.9 1111.0,1566.0 C1113.4,1574.8 1116.2,1582.6 1119.0,1590.4 C1121.6,1597.6 1124.1,1604.3 1127.0,1611.0 C1129.9,1617.7 1132.9,1624.5 1136.5,1630.5 C1139.9,1636.3 1143.8,1641.5 1148.0,1646.5 C1152.2,1651.5 1156.6,1656.4 1161.6,1660.6 C1166.6,1664.9 1172.2,1668.7 1178.0,1672.0 C1183.9,1675.4 1190.5,1678.3 1196.7,1680.6 C1202.5,1682.8 1208.2,1684.2 1214.0,1685.6 C1219.9,1687.0 1225.4,1688.2 1231.8,1689.1 C1239.2,1690.1 1247.8,1690.4 1256.0,1690.8 C1264.5,1691.2 1276.1,1692.0 1281.9,1691.6 C1284.8,1691.4 1286.4,1691.1 1288.5,1690.5 C1290.6,1689.9 1292.4,1688.7 1294.4,1688.0 C1296.4,1687.3 1298.5,1686.5 1300.5,1686.5 C1302.5,1686.5 1305.0,1686.8 1306.5,1688.0 C1308.2,1689.4 1309.0,1692.1 1309.8,1695.0 C1311.0,1699.4 1311.1,1705.6 1311.6,1712.0 C1312.2,1720.2 1312.4,1728.9 1313.0,1740.0 C1313.8,1756.2 1315.0,1777.5 1316.0,1800.0 C1317.3,1829.1 1318.8,1870.9 1320.0,1900.0 C1320.9,1922.5 1321.7,1938.6 1322.6,1960.0 C1323.6,1984.8 1324.6,2016.5 1325.5,2040.0 C1326.2,2058.6 1326.8,2071.9 1327.6,2090.0 C1328.5,2111.4 1329.7,2140.5 1330.8,2160.0 C1331.6,2174.0 1332.0,2186.9 1333.3,2196.0 C1334.1,2201.6 1334.9,2209.3 1336.1,2209.5 C1336.8,2209.6 1337.9,2207.0 1338.6,2205.0 C1339.7,2201.9 1340.0,2196.4 1340.7,2192.0 C1341.4,2187.4 1341.9,2184.4 1342.6,2178.0 C1344.0,2164.6 1345.8,2138.1 1347.6,2115.0 C1349.8,2086.6 1352.3,2049.2 1355.0,2020.0 C1357.3,1994.9 1359.5,1970.0 1362.5,1950.0 C1364.8,1934.9 1366.9,1923.6 1370.2,1910.5 C1373.6,1897.1 1377.7,1883.4 1382.7,1870.4 C1387.7,1857.5 1393.3,1844.8 1400.3,1832.8 C1407.4,1820.6 1415.6,1807.1 1425.3,1797.7 C1434.2,1789.1 1444.2,1782.7 1455.4,1777.7 C1467.4,1772.4 1481.7,1770.2 1495.5,1767.7 C1510.0,1765.1 1532.9,1762.2 1540.6,1762.7 C1543.3,1762.9 1544.4,1763.2 1546.0,1764.0 C1547.7,1764.8 1548.8,1766.7 1550.6,1767.7 C1552.5,1768.8 1554.9,1769.8 1557.0,1770.0 C1559.1,1770.2 1561.5,1770.2 1563.2,1769.2 C1564.9,1768.2 1566.1,1766.3 1567.0,1764.0 C1568.4,1760.6 1568.3,1755.3 1568.8,1750.0 C1569.5,1742.9 1569.9,1734.0 1570.5,1725.0 C1571.2,1714.3 1571.8,1704.7 1572.5,1690.0 C1573.6,1665.2 1574.8,1624.5 1576.0,1590.0 C1577.3,1553.0 1578.7,1508.6 1580.0,1475.0 C1581.0,1448.8 1582.0,1425.5 1583.0,1405.0 C1583.8,1388.9 1584.6,1374.8 1585.5,1362.0 C1586.3,1351.7 1587.1,1342.2 1588.0,1334.0 C1588.7,1327.6 1589.5,1321.5 1590.4,1317.0 C1591.0,1314.0 1591.5,1311.1 1592.4,1309.5 C1592.9,1308.5 1593.5,1307.5 1594.1,1307.5 C1594.7,1307.5 1595.4,1308.5 1596.0,1309.5 C1597.0,1311.3 1597.6,1314.6 1598.4,1318.0 C1599.5,1322.9 1600.5,1329.3 1601.5,1336.0 C1602.8,1344.5 1603.8,1354.9 1605.1,1365.0 C1606.6,1376.1 1608.3,1388.6 1610.0,1400.0 C1611.6,1410.9 1613.4,1421.5 1615.1,1432.0 C1616.7,1442.2 1618.3,1452.0 1620.0,1462.0 C1621.7,1472.0 1623.5,1481.8 1625.1,1492.0 C1626.8,1502.7 1628.3,1514.3 1630.0,1525.0 C1631.6,1535.2 1633.2,1545.2 1635.2,1555.0 C1637.2,1564.5 1639.3,1574.3 1642.0,1583.0 C1644.4,1591.0 1647.1,1598.3 1650.2,1605.4 C1653.2,1612.2 1656.5,1618.9 1660.0,1625.0 C1663.2,1630.6 1666.6,1635.6 1670.3,1640.5 C1673.9,1645.3 1677.8,1649.8 1682.0,1654.0 C1686.2,1658.1 1690.4,1662.0 1695.3,1665.5 C1700.4,1669.2 1706.2,1672.6 1712.0,1675.5 C1717.9,1678.5 1724.1,1681.0 1730.4,1683.1 C1736.8,1685.2 1743.4,1686.8 1750.0,1688.0 C1756.7,1689.3 1763.4,1689.9 1770.5,1690.6 C1778.3,1691.3 1786.7,1691.8 1795.0,1692.2 C1803.4,1692.6 1815.3,1693.8 1820.6,1693.1 C1823.1,1692.8 1824.3,1692.3 1826.0,1691.5 C1827.7,1690.7 1828.9,1689.0 1830.6,1688.1 C1832.5,1687.1 1834.9,1686.1 1837.0,1685.8 C1839.1,1685.5 1841.7,1685.2 1843.2,1686.0 C1844.6,1686.7 1845.3,1688.1 1846.0,1690.0 C1847.2,1693.3 1847.1,1699.4 1847.5,1705.0 C1848.0,1712.3 1848.2,1719.6 1848.6,1730.0 C1849.3,1747.5 1850.1,1775.9 1851.0,1800.0 C1851.9,1825.8 1853.0,1855.2 1854.0,1880.0 C1854.8,1901.4 1855.4,1920.0 1856.4,1940.0 C1857.4,1960.0 1858.8,1979.6 1860.0,2000.0 C1861.3,2021.2 1862.8,2045.1 1863.9,2065.0 C1864.9,2081.9 1865.5,2098.9 1866.4,2112.0 C1867.1,2121.3 1867.5,2129.6 1868.6,2136.0 C1869.4,2140.4 1870.1,2146.6 1871.4,2147.0 C1872.0,2147.2 1873.0,2146.0 1873.6,2145.0 C1874.6,2143.3 1874.9,2140.8 1875.5,2137.0 C1876.9,2127.9 1877.7,2105.0 1878.9,2090.0 C1880.0,2076.1 1881.2,2062.9 1882.5,2050.0 C1883.7,2037.9 1885.1,2028.5 1886.5,2015.0 C1888.5,1996.7 1890.3,1970.1 1893.0,1950.0 C1895.4,1932.3 1897.3,1916.9 1901.5,1900.5 C1905.9,1883.7 1912.1,1866.2 1919.0,1850.4 C1925.6,1835.4 1932.3,1819.8 1941.6,1807.8 C1950.1,1796.7 1960.1,1786.9 1971.7,1780.2 C1983.5,1773.4 1998.3,1770.6 2011.8,1767.7 C2025.0,1764.8 2039.8,1763.5 2051.9,1762.7 C2061.9,1762.1 2073.4,1761.7 2079.4,1762.7 C2082.4,1763.2 2083.9,1764.2 2086.0,1765.0 C2088.1,1765.8 2090.0,1767.2 2092.0,1767.7 C2094.0,1768.2 2096.4,1768.8 2098.0,1768.0 C2099.7,1767.1 2100.6,1764.8 2101.5,1762.0 C2103.1,1757.1 2103.2,1748.2 2103.8,1740.0 C2104.6,1729.7 2105.0,1719.2 2105.6,1705.0 C2106.6,1682.9 2107.8,1651.9 2109.0,1620.0 C2110.5,1579.1 2112.5,1518.7 2113.9,1480.0 C2114.9,1452.7 2115.6,1430.8 2116.5,1410.0 C2117.3,1393.3 2118.1,1379.8 2118.9,1365.0 C2119.7,1350.5 2120.6,1335.0 2121.5,1322.0 C2122.2,1311.1 2123.0,1300.4 2123.8,1292.0 C2124.4,1285.8 2125.0,1280.0 2125.8,1276.0 C2126.3,1273.5 2126.6,1270.2 2127.4,1270.0 C2127.9,1269.9 2128.5,1270.7 2129.0,1271.5 C2130.0,1273.1 2130.6,1276.4 2131.3,1280.0 C2132.4,1285.8 2133.0,1294.2 2133.8,1303.0 C2134.8,1314.9 2135.4,1330.2 2136.4,1345.0 C2137.5,1361.6 2138.7,1380.9 2140.0,1398.0 C2141.2,1414.1 2142.1,1429.0 2143.9,1445.0 C2145.8,1461.9 2149.1,1481.6 2151.5,1497.0 C2153.4,1509.3 2154.9,1519.3 2157.0,1530.0 C2159.1,1540.3 2161.6,1550.5 2164.0,1560.0 C2166.2,1568.7 2168.4,1577.2 2171.0,1585.0 C2173.4,1592.2 2176.0,1598.8 2179.0,1605.4 C2182.0,1611.8 2185.2,1618.1 2189.0,1624.0 C2192.8,1629.8 2197.1,1635.5 2201.6,1640.5 C2205.8,1645.3 2210.1,1649.4 2215.0,1653.5 C2220.1,1657.8 2225.8,1661.9 2231.6,1665.5 C2237.4,1669.1 2243.5,1672.1 2250.0,1675.0 C2256.8,1678.0 2264.7,1680.9 2271.7,1683.1 C2278.0,1685.1 2283.6,1686.6 2290.0,1687.8 C2296.9,1689.1 2304.3,1690.0 2311.8,1690.6 C2319.8,1691.3 2331.3,1692.2 2336.8,1691.6 C2339.6,1691.3 2341.0,1690.8 2343.0,1690.0 C2345.2,1689.1 2347.4,1686.9 2349.4,1686.2 C2350.9,1685.7 2352.3,1685.1 2353.5,1685.5 C2354.7,1685.9 2355.8,1687.0 2356.6,1688.5 C2357.9,1691.0 2358.0,1695.4 2358.5,1700.0 C2359.2,1706.7 2359.4,1716.7 2359.8,1725.0" stroke="#260202" stroke-width="7" fill="none" stroke-linejoin="round" stroke-linecap="round" clip-path="url(#cpp)"/><path d="M262.0,1206.0H2361.0V2307.0H262.0Z" stroke="#000" stroke-width="7.5" fill="none" stroke-linejoin="round"/><path d="M249.5,2307.5H278M249.5,2124.0H278M249.5,1940.5H278M249.5,1757.0H278M249.5,1573.5H278M249.5,1390.0H278M249.5,1206.5H278" stroke="#000" stroke-width="6.5" fill="none"/><text transform="translate(227.0,2305.5) scale(1,1.100)" x="0" y="15.75" font-size="45.0" text-anchor="end">-0.15</text><text transform="translate(227.0,2122.0) scale(1,1.100)" x="0" y="15.75" font-size="45.0" text-anchor="end">-0.1</text><text transform="translate(227.0,1939.0) scale(1,1.100)" x="0" y="15.75" font-size="45.0" text-anchor="end">-0.05</text><text transform="translate(227.0,1757.0) scale(1,1.100)" x="0" y="15.75" font-size="45.0" text-anchor="end">0</text><text transform="translate(227.0,1571.5) scale(1,1.100)" x="0" y="15.75" font-size="45.0" text-anchor="end">0.05</text><text transform="translate(227.0,1387.5) scale(1,1.100)" x="0" y="15.75" font-size="45.0" text-anchor="end">0.1</text><text transform="translate(227.0,1204.5) scale(1,1.100)" x="0" y="15.75" font-size="45.0" text-anchor="end">0.15</text><text x="362.5" y="1332.5" font-size="61.0" text-anchor="start" font-weight="bold" fill="#000">(b)</text><text x="1670.0" y="1825.0" font-size="53.5" text-anchor="start" font-weight="bold" fill="#e00000">SET</text><text x="1898.5" y="1534.0" font-size="52.5" text-anchor="start" font-weight="bold" fill="#0070c0">RESET</text><text x="97.0" y="1760.0" font-size="60.5" text-anchor="middle" font-weight="bold" fill="#000" transform="rotate(-90 97 1760)">Voltage (V)</text><path d="M265.0,2570.0H2365.0M265.0,2753.0H2365.0M265.0,2935.0H2365.0M265.0,3117.5H2365.0M497.7,2389.5V3297.5M731.4,2389.5V3297.5M965.7,2389.5V3297.5M1195.9,2389.5V3297.5M1430.0,2389.5V3297.5M1664.5,2389.5V3297.5M1899.0,2389.5V3297.5M2128.7,2389.5V3297.5" stroke="#cfcfcf" stroke-width="3.2" fill="none"/><path d="M265.0,2389.5H2365.0V3297.5H265.0Z" stroke="#000" stroke-width="7.2" fill="none" stroke-linejoin="round"/><path d="M253.5,2389.5H278M253.5,2570.0H278M253.5,2753.0H278M253.5,2935.0H278M253.5,3117.5H278M253.5,3297.5H278" stroke="#000" stroke-width="7" fill="none"/><path d="M264.5,3282.5V3315.5M497.7,3282.5V3315.5M731.4,3282.5V3315.5M966.4,3282.5V3315.5M1195.9,3282.5V3315.5M1430.7,3282.5V3315.5M1664.5,3282.5V3315.5M1898.5,3282.5V3315.5M2129.3,3282.5V3315.5M2363.0,3282.5V3315.5" stroke="#000" stroke-width="5.6" fill="none"/><path d="M264.0,3252.0 C265.0,3255.3 265.9,3258.5 267.0,3262.0 C268.2,3265.8 269.6,3270.1 271.0,3274.0 C272.3,3277.8 273.6,3281.5 275.0,3285.0 C276.3,3288.2 277.5,3291.8 279.0,3294.0 C280.1,3295.6 281.2,3297.0 282.5,3297.5 C283.6,3297.9 285.0,3298.0 286.0,3297.5 C287.2,3296.8 288.2,3295.1 289.0,3293.0 C290.5,3289.1 290.7,3281.8 291.5,3275.0 C292.5,3266.3 293.2,3255.4 294.0,3245.0 C294.9,3233.8 295.7,3221.7 296.5,3210.0 C297.3,3198.3 298.1,3187.1 299.0,3175.0 C299.9,3162.1 301.0,3147.9 302.0,3135.0 C303.0,3122.9 303.9,3110.6 305.0,3100.0 C305.9,3091.2 306.7,3081.7 308.0,3076.0 C308.7,3072.7 309.5,3070.2 310.5,3068.5 C311.2,3067.4 312.0,3066.3 312.7,3066.3 C313.5,3066.3 314.4,3067.5 315.0,3068.5 C315.9,3069.9 316.4,3071.7 317.0,3074.0 C318.0,3077.6 318.6,3083.0 319.5,3088.0 C320.5,3093.6 321.5,3099.6 322.5,3106.0 C323.7,3113.4 325.0,3121.5 326.0,3130.0 C327.2,3139.4 328.0,3150.8 329.0,3160.0 C329.8,3167.9 330.4,3175.5 331.5,3182.0 C332.4,3187.2 333.1,3191.5 334.6,3196.0 C336.0,3200.5 338.2,3204.7 340.2,3209.0 C342.3,3213.4 344.5,3217.7 347.0,3222.0 C349.5,3226.4 352.3,3230.5 355.2,3235.0 C358.3,3239.8 361.4,3245.2 365.0,3250.0 C368.7,3254.9 372.7,3259.8 377.0,3264.0 C381.1,3268.1 385.9,3271.9 390.0,3275.0 C393.5,3277.6 396.2,3279.6 400.0,3281.5 C404.4,3283.7 409.8,3285.5 415.0,3287.0 C420.4,3288.5 426.2,3289.6 432.0,3290.5 C437.9,3291.4 443.5,3291.9 450.0,3292.5 C457.6,3293.2 466.7,3293.6 475.0,3294.0 C483.3,3294.4 491.7,3294.7 500.0,3295.0 C508.3,3295.3 517.5,3295.6 525.0,3296.0 C531.0,3296.3 538.2,3298.2 541.4,3297.0 C543.0,3296.4 543.7,3295.6 544.5,3294.0 C545.9,3291.2 545.8,3285.6 546.3,3280.0 C547.0,3271.9 547.3,3261.7 547.8,3250.0 C548.5,3233.4 549.2,3209.0 550.0,3190.0 C550.7,3172.8 551.6,3159.4 552.4,3141.0 C553.4,3117.4 554.5,3086.7 555.5,3060.0 C556.5,3034.0 557.4,3007.2 558.4,2983.0 C559.3,2961.5 560.2,2939.5 561.4,2922.0 C562.3,2908.7 563.1,2896.0 564.3,2887.0 C565.1,2881.3 565.7,2876.0 567.0,2873.0 C567.7,2871.3 568.7,2869.5 569.5,2869.5 C570.4,2869.5 571.3,2871.7 572.0,2873.5 C573.2,2876.8 573.8,2882.0 574.5,2888.0 C575.7,2897.5 576.5,2911.4 577.3,2925.0 C578.3,2941.5 579.1,2960.6 580.0,2980.0 C581.0,3001.9 581.8,3028.1 583.0,3050.0 C584.0,3069.4 585.0,3087.6 586.5,3105.0 C587.9,3120.8 589.4,3137.1 591.5,3150.0 C593.1,3159.9 594.3,3167.8 597.0,3176.0 C599.6,3183.8 603.9,3191.4 607.1,3198.0 C609.8,3203.5 611.9,3208.3 615.0,3213.0 C618.1,3217.7 621.8,3221.9 625.9,3226.0 C630.1,3230.3 634.9,3234.4 640.0,3238.0 C645.3,3241.8 651.6,3245.5 657.3,3248.0 C662.3,3250.2 666.9,3251.3 672.0,3252.5 C677.3,3253.8 682.2,3254.7 688.6,3255.5 C697.4,3256.6 709.5,3257.0 720.0,3257.5 C730.4,3258.0 741.4,3258.4 751.3,3258.7 C760.3,3259.0 771.6,3258.7 777.0,3259.5 C779.5,3259.9 780.6,3260.3 782.4,3261.0 C784.5,3261.8 786.7,3263.8 788.8,3264.5 C790.6,3265.1 792.5,3265.8 794.0,3265.5 C795.4,3265.2 796.7,3264.4 797.6,3263.0 C799.1,3260.8 799.4,3256.3 800.0,3252.0 C800.9,3245.9 801.2,3238.8 801.8,3230.0 C802.6,3216.9 803.3,3199.3 804.0,3181.0 C804.9,3157.6 805.8,3127.7 806.7,3101.0 C807.6,3074.1 808.5,3046.8 809.5,3020.0 C810.5,2993.5 811.7,2966.6 812.7,2941.0 C813.7,2916.7 814.5,2892.2 815.5,2870.0 C816.4,2850.5 817.2,2829.4 818.5,2815.0 C819.4,2805.7 820.3,2797.1 821.5,2792.0 C822.1,2789.3 822.6,2787.1 823.5,2786.0 C824.0,2785.4 824.6,2785.0 825.2,2785.0 C825.8,2785.0 826.5,2785.7 827.0,2786.5 C828.1,2788.1 828.8,2791.3 829.5,2795.0 C830.8,2801.4 831.6,2810.6 832.5,2822.0 C834.0,2841.2 834.9,2873.4 836.0,2900.0 C837.2,2927.7 838.3,2959.1 839.5,2985.0 C840.5,3006.7 841.4,3025.0 842.5,3045.0 C843.6,3065.0 844.5,3087.0 846.0,3105.0 C847.2,3119.7 848.4,3132.7 850.2,3145.0 C851.8,3155.8 853.6,3165.5 856.0,3175.0 C858.2,3183.8 860.8,3192.1 864.0,3200.0 C867.1,3207.7 870.8,3215.0 875.0,3222.0 C879.2,3228.9 884.1,3235.6 889.1,3241.7 C893.8,3247.5 898.7,3253.1 904.0,3258.0 C909.2,3262.8 915.1,3266.9 920.4,3271.0 C925.4,3274.9 929.9,3279.1 935.0,3282.0 C939.8,3284.8 944.9,3286.8 950.0,3288.3 C954.9,3289.8 959.6,3290.3 965.0,3291.0 C971.2,3291.8 978.0,3292.3 985.0,3292.7 C992.9,3293.2 1001.3,3293.3 1010.0,3293.5 C1019.5,3293.7 1031.0,3293.5 1040.0,3294.0 C1047.3,3294.4 1054.3,3295.1 1060.0,3295.9 C1064.2,3296.5 1067.9,3297.5 1071.0,3297.8 C1073.3,3298.0 1075.4,3299.0 1077.0,3298.0 C1078.9,3296.8 1079.8,3293.4 1080.8,3290.0 C1082.3,3284.6 1082.4,3276.1 1083.0,3268.0 C1083.8,3258.1 1084.3,3247.4 1085.0,3235.0 C1085.9,3219.0 1087.0,3196.8 1088.0,3180.0 C1088.8,3165.9 1089.5,3154.7 1090.4,3141.0 C1091.4,3125.6 1092.4,3107.2 1093.5,3092.0 C1094.5,3078.8 1095.4,3065.9 1096.5,3055.0 C1097.4,3046.4 1098.3,3038.2 1099.5,3032.0 C1100.3,3027.6 1101.2,3023.6 1102.3,3021.0 C1103.0,3019.4 1103.7,3018.2 1104.5,3017.5 C1105.1,3017.0 1105.8,3016.6 1106.5,3016.7 C1107.2,3016.8 1107.9,3017.2 1108.5,3018.0 C1109.7,3019.6 1110.2,3023.3 1111.0,3027.0 C1112.2,3032.9 1113.0,3041.3 1114.0,3050.0 C1115.3,3061.5 1116.6,3076.3 1118.0,3090.0 C1119.5,3104.6 1120.7,3122.2 1122.5,3135.0 C1123.8,3144.6 1125.2,3152.0 1127.0,3160.0 C1128.7,3167.6 1130.7,3175.1 1133.0,3182.0 C1135.1,3188.4 1137.0,3194.2 1140.0,3200.0 C1143.2,3206.2 1147.6,3212.8 1152.0,3218.0 C1156.0,3222.7 1160.4,3226.2 1165.0,3230.0 C1169.7,3233.9 1174.3,3237.8 1180.0,3241.0 C1186.5,3244.6 1194.4,3247.6 1202.4,3250.0 C1211.0,3252.6 1221.5,3254.7 1230.0,3256.0 C1237.2,3257.1 1242.7,3257.5 1250.0,3258.0 C1259.0,3258.6 1269.7,3258.8 1280.0,3259.0 C1290.8,3259.2 1306.9,3258.0 1313.2,3259.3 C1315.8,3259.8 1316.8,3260.6 1318.5,3261.5 C1320.3,3262.4 1321.8,3264.1 1323.7,3264.9 C1325.6,3265.7 1328.1,3266.0 1330.0,3266.0 C1331.6,3266.0 1333.3,3266.0 1334.5,3265.0 C1336.0,3263.7 1336.7,3260.9 1337.5,3258.0 C1338.7,3253.5 1339.0,3247.2 1339.6,3240.0 C1340.5,3229.3 1341.3,3215.2 1342.0,3200.0 C1343.0,3179.9 1343.7,3153.3 1344.5,3130.0 C1345.3,3106.7 1345.9,3084.8 1346.7,3060.0 C1347.6,3031.9 1348.5,3000.0 1349.5,2970.0 C1350.5,2940.0 1351.6,2906.2 1352.7,2880.0 C1353.6,2859.7 1354.3,2840.0 1355.5,2826.0 C1356.2,2817.0 1356.9,2809.0 1358.0,2804.0 C1358.6,2801.3 1359.2,2799.1 1360.0,2798.0 C1360.4,2797.4 1361.0,2796.9 1361.5,2797.0 C1362.1,2797.1 1362.8,2798.0 1363.3,2799.0 C1364.4,2801.1 1365.1,2805.2 1365.8,2810.0 C1367.2,2819.1 1367.9,2834.8 1368.8,2850.0 C1370.0,2870.1 1371.1,2895.9 1372.0,2920.0 C1373.0,2945.8 1373.7,2975.2 1374.6,3000.0 C1375.3,3021.4 1375.9,3040.9 1376.8,3060.0 C1377.6,3077.4 1378.3,3094.3 1379.5,3110.0 C1380.5,3124.1 1381.5,3137.7 1383.3,3150.0 C1384.8,3160.8 1386.7,3171.3 1389.0,3180.0 C1390.8,3186.8 1392.6,3191.7 1395.0,3198.0 C1397.8,3205.3 1401.3,3213.8 1405.0,3221.0 C1408.5,3227.8 1412.4,3234.3 1416.3,3240.0 C1419.8,3245.1 1423.3,3249.7 1427.0,3254.0 C1430.5,3258.1 1434.0,3261.9 1438.0,3265.5 C1442.2,3269.3 1447.1,3273.0 1452.0,3276.0 C1456.8,3279.0 1461.7,3281.4 1467.0,3283.5 C1472.6,3285.7 1479.0,3287.2 1485.0,3288.5 C1491.0,3289.7 1496.7,3290.4 1503.0,3291.0 C1510.0,3291.6 1517.4,3291.7 1525.0,3292.0 C1533.1,3292.3 1542.4,3292.2 1550.0,3292.7 C1556.5,3293.1 1562.6,3293.7 1568.0,3294.5 C1572.4,3295.2 1576.2,3296.4 1580.0,3297.0 C1583.5,3297.5 1587.8,3299.6 1590.0,3298.0 C1592.7,3296.1 1592.4,3289.7 1593.2,3284.0 C1594.5,3275.2 1594.9,3263.4 1595.5,3250.0 C1596.4,3230.8 1596.8,3206.4 1597.5,3180.0 C1598.4,3145.6 1599.3,3100.8 1600.3,3061.0 C1601.3,3020.8 1602.3,2980.2 1603.3,2940.0 C1604.3,2900.2 1605.2,2856.6 1606.3,2821.0 C1607.2,2792.0 1607.9,2764.6 1609.0,2742.0 C1609.8,2724.9 1610.7,2709.2 1611.8,2697.0 C1612.6,2688.7 1613.3,2681.2 1614.3,2676.0 C1614.9,2672.8 1615.4,2670.1 1616.4,2668.5 C1617.0,2667.5 1617.7,2666.5 1618.4,2666.5 C1619.1,2666.5 1619.9,2667.4 1620.5,2668.5 C1621.7,2670.7 1622.1,2675.2 1622.8,2680.0 C1623.9,2687.6 1624.6,2698.1 1625.3,2710.0 C1626.4,2727.5 1627.2,2751.8 1628.0,2775.0 C1629.0,2801.9 1629.7,2832.5 1630.6,2862.0 C1631.5,2892.5 1632.5,2925.2 1633.5,2955.0 C1634.5,2982.7 1635.4,3011.5 1636.5,3035.0 C1637.4,3053.6 1638.3,3069.4 1639.5,3085.0 C1640.5,3098.8 1641.5,3111.8 1643.0,3124.0 C1644.4,3135.0 1645.9,3145.6 1648.0,3155.0 C1649.8,3163.0 1651.6,3170.2 1654.4,3177.0 C1657.0,3183.4 1660.3,3189.1 1664.0,3195.0 C1667.8,3201.1 1672.3,3207.2 1677.0,3213.0 C1681.7,3218.9 1686.5,3225.1 1692.1,3230.0 C1697.5,3234.7 1703.9,3238.7 1710.0,3242.0 C1715.7,3245.1 1720.7,3247.5 1727.2,3249.5 C1735.2,3252.0 1745.7,3253.5 1755.0,3255.0 C1764.4,3256.5 1773.6,3257.8 1783.3,3258.6 C1793.5,3259.4 1804.4,3259.3 1815.0,3259.5 C1825.5,3259.7 1840.0,3259.0 1846.5,3260.0 C1849.5,3260.5 1850.8,3261.2 1853.0,3262.0 C1855.4,3262.8 1858.2,3264.3 1860.5,3264.9 C1862.4,3265.4 1864.3,3265.8 1866.0,3265.5 C1867.6,3265.2 1869.3,3264.7 1870.5,3263.5 C1872.0,3262.1 1872.9,3259.9 1873.8,3257.0 C1875.3,3251.9 1875.5,3243.9 1876.3,3235.0 C1877.5,3221.2 1878.1,3198.5 1879.3,3182.0 C1880.3,3167.5 1881.6,3155.3 1882.7,3141.0 C1883.9,3125.4 1884.9,3107.3 1886.0,3092.0 C1887.0,3078.5 1887.9,3065.3 1889.0,3054.0 C1889.9,3044.8 1890.9,3035.8 1892.0,3029.0 C1892.8,3024.3 1893.5,3020.0 1894.5,3017.0 C1895.1,3015.1 1895.8,3013.6 1896.5,3012.5 C1897.0,3011.8 1897.5,3011.0 1898.0,3011.0 C1898.5,3011.0 1899.2,3011.8 1899.7,3012.5 C1900.5,3013.5 1901.1,3015.1 1901.7,3017.0 C1902.6,3020.0 1903.3,3024.5 1904.0,3029.0 C1904.9,3034.6 1905.6,3040.6 1906.3,3048.0 C1907.3,3058.3 1908.2,3072.2 1909.2,3085.0 C1910.3,3098.8 1911.3,3113.9 1912.6,3128.0 C1913.9,3141.6 1915.2,3156.1 1917.0,3168.0 C1918.5,3177.6 1919.8,3186.1 1922.0,3194.0 C1923.9,3200.9 1925.9,3206.2 1929.0,3213.0 C1932.8,3221.3 1939.7,3232.9 1944.0,3240.0 C1947.0,3244.9 1949.2,3248.2 1952.0,3252.0 C1954.6,3255.5 1957.2,3259.0 1960.0,3262.0 C1962.6,3264.8 1964.8,3267.1 1968.0,3269.5 C1971.9,3272.4 1976.9,3275.3 1982.0,3277.6 C1987.5,3280.2 1993.8,3282.2 2000.0,3284.0 C2006.4,3285.9 2012.9,3287.4 2020.0,3288.5 C2027.8,3289.7 2035.6,3290.2 2045.0,3290.8 C2057.2,3291.6 2075.9,3291.9 2087.0,3292.7 C2094.3,3293.2 2099.6,3293.7 2105.0,3294.5 C2109.4,3295.2 2113.1,3296.4 2117.0,3297.0 C2120.6,3297.5 2125.1,3300.0 2127.5,3298.0 C2131.4,3294.8 2129.5,3280.6 2130.2,3270.0 C2131.2,3255.9 2131.6,3239.4 2132.2,3221.0 C2133.0,3197.4 2133.8,3166.8 2134.5,3140.0 C2135.2,3113.5 2135.8,3088.9 2136.4,3061.0 C2137.1,3029.4 2137.8,2993.5 2138.5,2960.0 C2139.2,2926.8 2139.7,2893.5 2140.4,2861.0 C2141.1,2829.5 2141.8,2797.6 2142.5,2768.0 C2143.2,2740.9 2143.8,2716.7 2144.5,2690.0 C2145.3,2661.8 2146.1,2629.3 2147.0,2603.0 C2147.8,2581.1 2148.4,2558.7 2149.5,2543.0 C2150.2,2532.9 2150.5,2523.3 2151.9,2518.0 C2152.6,2515.4 2153.6,2512.5 2154.4,2512.5 C2155.2,2512.5 2156.1,2514.9 2156.7,2517.0 C2157.9,2521.1 2158.2,2528.3 2158.8,2536.0 C2159.7,2547.6 2160.1,2563.4 2160.7,2580.0 C2161.4,2601.7 2161.9,2629.2 2162.5,2655.0 C2163.1,2682.4 2163.7,2709.2 2164.4,2740.0 C2165.3,2776.6 2166.5,2820.2 2167.5,2860.0 C2168.5,2899.5 2169.4,2942.5 2170.4,2978.0 C2171.2,3007.3 2171.9,3033.4 2173.0,3058.0 C2174.0,3079.2 2175.0,3100.5 2176.4,3117.0 C2177.4,3129.0 2178.2,3138.6 2179.8,3148.0 C2181.2,3156.0 2183.1,3163.5 2185.0,3170.0 C2186.5,3175.2 2188.0,3179.2 2190.0,3184.0 C2192.1,3189.2 2194.3,3194.6 2197.4,3200.0 C2200.8,3206.0 2205.3,3212.6 2210.0,3218.0 C2214.6,3223.2 2219.7,3227.9 2225.4,3232.0 C2231.3,3236.3 2238.1,3239.9 2245.0,3243.0 C2252.1,3246.2 2259.9,3248.9 2267.5,3251.0 C2274.9,3253.1 2282.2,3254.3 2290.0,3255.5 C2298.5,3256.8 2308.1,3257.9 2316.7,3258.6 C2324.7,3259.2 2332.3,3259.3 2340.0,3259.5 C2347.5,3259.7 2354.9,3259.8 2362.3,3260.0" stroke="url(#cg)" stroke-width="7.5" fill="none" stroke-linejoin="round" stroke-linecap="round"/><text transform="translate(173.8,2392.5) scale(1,1.080)" x="0" y="15.75" font-size="45.0" text-anchor="middle">100</text><text transform="translate(172.5,2568.0) scale(1,1.080)" x="0" y="15.75" font-size="45.0" text-anchor="middle">80</text><text transform="translate(168.0,2753.7) scale(1,1.080)" x="0" y="15.75" font-size="45.0" text-anchor="middle">60</text><text transform="translate(168.6,2935.7) scale(1,1.080)" x="0" y="15.75" font-size="45.0" text-anchor="middle">40</text><text transform="translate(166.2,3116.3) scale(1,1.080)" x="0" y="15.75" font-size="45.0" text-anchor="middle">20</text><text transform="translate(171.5,3284.9) scale(1,1.080)" x="0" y="15.75" font-size="45.0" text-anchor="middle">0</text><text transform="translate(267.2,3363.7) scale(1,1.080)" x="0" y="15.75" font-size="45.0" text-anchor="middle">0</text><text transform="translate(501.5,3363.7) scale(1,1.080)" x="0" y="15.75" font-size="45.0" text-anchor="middle">800</text><text transform="translate(747.6,3363.7) scale(1,1.080)" x="0" y="15.75" font-size="45.0" text-anchor="middle">1600</text><text transform="translate(981.5,3363.7) scale(1,1.080)" x="0" y="15.75" font-size="45.0" text-anchor="middle">2400</text><text transform="translate(1215.8,3363.7) scale(1,1.080)" x="0" y="15.75" font-size="45.0" text-anchor="middle">3200</text><text transform="translate(1437.6,3363.7) scale(1,1.080)" x="0" y="15.75" font-size="45.0" text-anchor="middle">4000</text><text transform="translate(1671.4,3363.7) scale(1,1.080)" x="0" y="15.75" font-size="45.0" text-anchor="middle">4800</text><text transform="translate(1888.0,3363.7) scale(1,1.080)" x="0" y="15.75" font-size="45.0" text-anchor="middle">5600</text><text transform="translate(2121.7,3363.7) scale(1,1.080)" x="0" y="15.75" font-size="45.0" text-anchor="middle">6400</text><text transform="translate(2343.8,3363.7) scale(1,1.080)" x="0" y="15.75" font-size="45.0" text-anchor="middle">7200</text><text x="1274.5" y="3469.0" font-size="60.7" text-anchor="middle" font-weight="bold" fill="#000">Time (ns)</text><text x="72.5" y="2830.0" font-size="61.8" text-anchor="middle" font-weight="bold" fill="#000" transform="rotate(-90 72.5 2830)">Conductance (µS)</text><text x="352.0" y="2517.0" font-size="61.0" text-anchor="start" font-weight="bold" fill="#000">(c)</text><text x="506.5" y="2806.5" font-size="53.0" text-anchor="start" font-weight="bold" fill="#e00000">LRS</text><text x="670.5" y="3231.5" font-size="52.0" text-anchor="start" font-weight="bold" fill="#0070c0">HRS</text><path d="M510,3260.5 L539.8,2862" stroke="#e00000" stroke-width="4.5" fill="none"/><path d="M541.4,2840.9 L524.4,2872.2 L557,2872.2Z" fill="#e00000"/><path d="M596.5,2859.6 L674,3170" stroke="#0070c0" stroke-width="4.5" fill="none"/><path d="M679.2,3188.4 L657.3,3163.4 L686.7,3154Z" fill="#0070c0"/></svg></body></html>
